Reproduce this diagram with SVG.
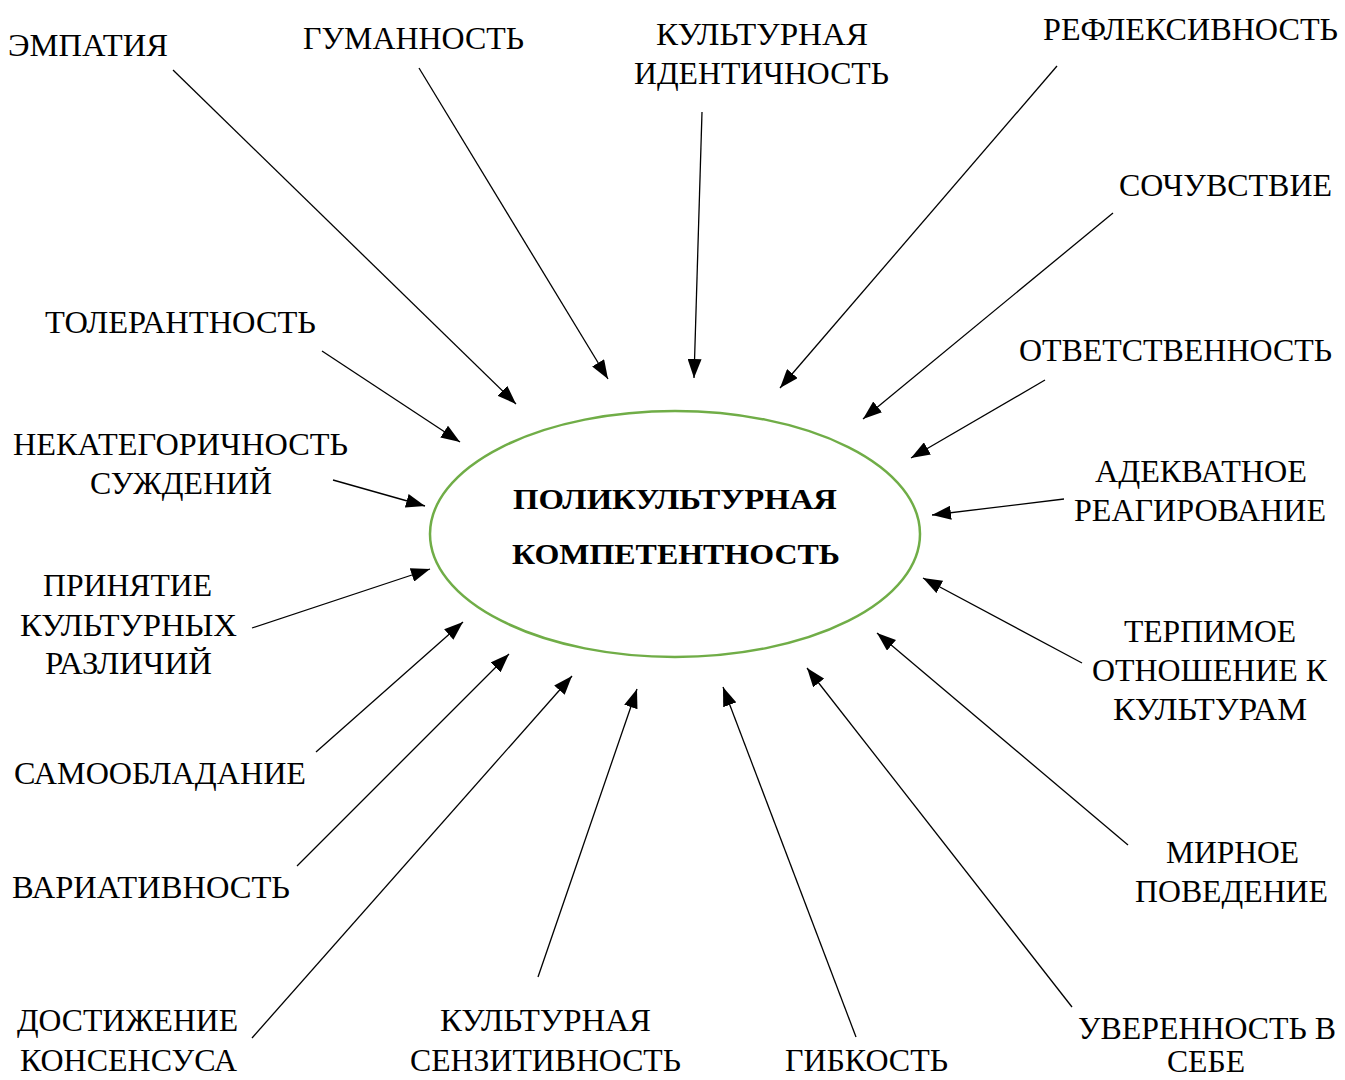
<svg xmlns="http://www.w3.org/2000/svg" width="1345" height="1080" viewBox="0 0 1345 1080">
<style>
.t{font-family:"Liberation Serif","Times New Roman",serif;font-size:31px;fill:#000}
.c{font-family:"Liberation Serif","Times New Roman",serif;font-size:30px;font-weight:bold;fill:#000}
.l{stroke:#000;stroke-width:1.3;fill:none;marker-end:url(#ah)}
</style>
<defs>
<marker id="ah" markerUnits="userSpaceOnUse" markerWidth="20" markerHeight="14" refX="19" refY="7" orient="auto">
<path d="M0,0 L19,7 L0,14 Z" fill="#000"/>
</marker>
</defs>
<rect width="1345" height="1080" fill="#fff"/>
<g id="center">
<ellipse cx="675" cy="534" rx="245" ry="123" fill="#fff" stroke="#70AD47" stroke-width="2.5"/>
<text class="c" x="513" y="509" textLength="324" lengthAdjust="spacingAndGlyphs">ПОЛИКУЛЬТУРНАЯ</text>
<text class="c" x="512" y="564" textLength="328" lengthAdjust="spacingAndGlyphs">КОМПЕТЕНТНОСТЬ</text>
</g>
<g id="connectors">
<line class="l" x1="173" y1="70" x2="516" y2="404"/>
<line class="l" x1="419" y1="68" x2="608" y2="379"/>
<line class="l" x1="702" y1="112" x2="694" y2="378"/>
<line class="l" x1="1057" y1="66" x2="780" y2="388"/>
<line class="l" x1="1113" y1="213" x2="863" y2="419"/>
<line class="l" x1="1045" y1="380" x2="911" y2="458"/>
<line class="l" x1="1064" y1="499" x2="932" y2="515"/>
<line class="l" x1="1082" y1="663" x2="923" y2="578"/>
<line class="l" x1="1128" y1="845" x2="877" y2="633"/>
<line class="l" x1="1072" y1="1007" x2="807" y2="668"/>
<line class="l" x1="856" y1="1037" x2="723" y2="687"/>
<line class="l" x1="538" y1="977" x2="637" y2="689"/>
<line class="l" x1="252" y1="1038" x2="572" y2="676"/>
<line class="l" x1="297" y1="866" x2="509" y2="654"/>
<line class="l" x1="316" y1="752" x2="463" y2="622"/>
<line class="l" x1="252" y1="628" x2="430" y2="569"/>
<line class="l" x1="333" y1="480" x2="425" y2="506"/>
<line class="l" x1="322" y1="351" x2="460" y2="442"/>
</g>
<g id="n-empatiya"><text class="t" x="8" y="56" textLength="160" lengthAdjust="spacingAndGlyphs">ЭМПАТИЯ</text></g>
<g id="n-gumannost"><text class="t" x="303" y="49" textLength="221" lengthAdjust="spacingAndGlyphs">ГУМАННОСТЬ</text></g>
<g id="n-identichnost">
<text class="t" x="656" y="45" textLength="212" lengthAdjust="spacingAndGlyphs">КУЛЬТУРНАЯ</text>
<text class="t" x="634" y="84" textLength="255" lengthAdjust="spacingAndGlyphs">ИДЕНТИЧНОСТЬ</text>
</g>
<g id="n-refleksivnost"><text class="t" x="1043" y="40" textLength="295" lengthAdjust="spacingAndGlyphs">РЕФЛЕКСИВНОСТЬ</text></g>
<g id="n-sochuvstvie"><text class="t" x="1119" y="196" textLength="213" lengthAdjust="spacingAndGlyphs">СОЧУВСТВИЕ</text></g>
<g id="n-otvetstvennost"><text class="t" x="1019" y="361" textLength="313" lengthAdjust="spacingAndGlyphs">ОТВЕТСТВЕННОСТЬ</text></g>
<g id="n-adekvatnoe">
<text class="t" x="1095" y="482" textLength="212" lengthAdjust="spacingAndGlyphs">АДЕКВАТНОЕ</text>
<text class="t" x="1074" y="521" textLength="252" lengthAdjust="spacingAndGlyphs">РЕАГИРОВАНИЕ</text>
</g>
<g id="n-terpimoe">
<text class="t" x="1124" y="642" textLength="172" lengthAdjust="spacingAndGlyphs">ТЕРПИМОЕ</text>
<text class="t" x="1092" y="681" textLength="235" lengthAdjust="spacingAndGlyphs">ОТНОШЕНИЕ К</text>
<text class="t" x="1113" y="720" textLength="194" lengthAdjust="spacingAndGlyphs">КУЛЬТУРАМ</text>
</g>
<g id="n-mirnoe">
<text class="t" x="1166" y="863" textLength="133" lengthAdjust="spacingAndGlyphs">МИРНОЕ</text>
<text class="t" x="1135" y="902" textLength="193" lengthAdjust="spacingAndGlyphs">ПОВЕДЕНИЕ</text>
</g>
<g id="n-uverennost">
<text class="t" x="1078" y="1039" textLength="258" lengthAdjust="spacingAndGlyphs">УВЕРЕННОСТЬ В</text>
<text class="t" x="1167" y="1072" textLength="78" lengthAdjust="spacingAndGlyphs">СЕБЕ</text>
</g>
<g id="n-gibkost"><text class="t" x="785" y="1071" textLength="163" lengthAdjust="spacingAndGlyphs">ГИБКОСТЬ</text></g>
<g id="n-senzitivnost">
<text class="t" x="440" y="1031" textLength="211" lengthAdjust="spacingAndGlyphs">КУЛЬТУРНАЯ</text>
<text class="t" x="410" y="1071" textLength="271" lengthAdjust="spacingAndGlyphs">СЕНЗИТИВНОСТЬ</text>
</g>
<g id="n-konsensus">
<text class="t" x="17" y="1031" textLength="221" lengthAdjust="spacingAndGlyphs">ДОСТИЖЕНИЕ</text>
<text class="t" x="20" y="1071" textLength="217" lengthAdjust="spacingAndGlyphs">КОНСЕНСУСА</text>
</g>
<g id="n-variativnost"><text class="t" x="12" y="898" textLength="278" lengthAdjust="spacingAndGlyphs">ВАРИАТИВНОСТЬ</text></g>
<g id="n-samoobladanie"><text class="t" x="14" y="784" textLength="292" lengthAdjust="spacingAndGlyphs">САМООБЛАДАНИЕ</text></g>
<g id="n-prinyatie">
<text class="t" x="43" y="596" textLength="169" lengthAdjust="spacingAndGlyphs">ПРИНЯТИЕ</text>
<text class="t" x="20" y="636" textLength="217" lengthAdjust="spacingAndGlyphs">КУЛЬТУРНЫХ</text>
<text class="t" x="45" y="674" textLength="167" lengthAdjust="spacingAndGlyphs">РАЗЛИЧИЙ</text>
</g>
<g id="n-nekategorichnost">
<text class="t" x="13" y="455" textLength="335" lengthAdjust="spacingAndGlyphs">НЕКАТЕГОРИЧНОСТЬ</text>
<text class="t" x="90" y="494" textLength="182" lengthAdjust="spacingAndGlyphs">СУЖДЕНИЙ</text>
</g>
<g id="n-tolerantnost"><text class="t" x="45" y="333" textLength="271" lengthAdjust="spacingAndGlyphs">ТОЛЕРАНТНОСТЬ</text></g>
</svg>
